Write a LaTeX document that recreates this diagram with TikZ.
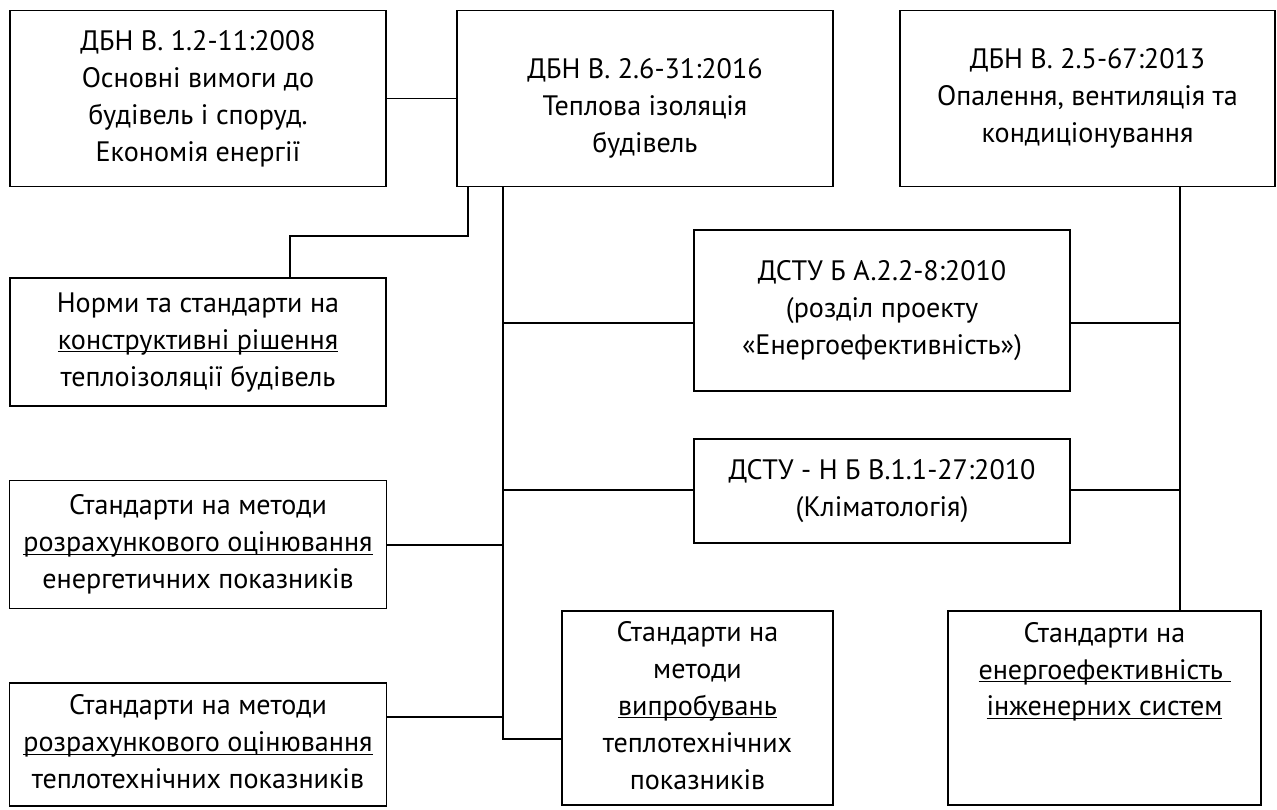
\documentclass[tikz,border=0pt]{standalone}
\usepackage{fontspec}
\setmainfont{PT Sans}
\usepackage{tikz}
\usetikzlibrary{positioning}
\newcommand{\ulbar}[1]{\setbox0=\hbox{#1}\rlap{\rule[-1.7pt]{\wd0}{0.6pt}}\box0}
\tikzset{
    stdbox/.style={
      rectangle,
      draw=black, line width=0.9pt,
      inner sep=2pt,
      text centered,
      font=\fontsize{16}{21}\selectfont,
    },
    stdtext/.style={
      inner sep=2pt,
      text centered,
      font=\fontsize{16}{21}\selectfont,
    },
}

\begin{document}
\begin{tikzpicture}[x=0.02cm,y=-0.02cm,line width=0.9pt]

    \useasboundingbox (0,0) rectangle (1277,810);

    \node[stdbox, minimum width=7.52cm, minimum height=3.52cm] (DBN1) at (198,98.5)
    {
      \begin{tabular}{c}
        ДБН В. 1.2-11:2008 \\
        Основні вимоги до \\
        будівель і споруд. \\
        Економія енергії
      \end{tabular}
    };

    \node[stdbox, minimum width=7.52cm, minimum height=3.52cm] (DBN2) at (645,98.5)
    {
      \raisebox{-0.2cm}[\height][\depth]{%
      \begin{tabular}{c}
        ДБН В. 2.6-31:2016 \\
        Теплова ізоляція \\
        будівель
      \end{tabular}}
    };

    \node[stdbox, minimum width=7.5cm, minimum height=3.52cm] (DBN3) at (1087.5,98.5)
    {
      \begin{tabular}{c}
        ДБН В. 2.5-67:2013 \\
        Опалення, вентиляція та \\
        кондиціонування
      \end{tabular}
    };

    \node[stdbox, minimum width=7.52cm, minimum height=2.56cm] (norms) at (198,342)
    {
      \begin{tabular}{c}
        Норми та стандарти на \\
        \ulbar{конструктивні рішення} \\
        теплоізоляції будівель
      \end{tabular}
    };

    \node[stdbox, minimum width=7.52cm, minimum height=3.22cm] (DSTU1) at (882,310.5)
    {
      \begin{tabular}{c}
        ДСТУ Б А.2.2-8:2010 \\
        (розділ проекту \\
        «Енергоефективність»)
      \end{tabular}
    };

    \node[stdbox, minimum width=7.52cm, minimum height=2.08cm] (DSTU2) at (882,491)
    {
      \begin{tabular}{c}
        ДСТУ - Н Б В.1.1-27:2010 \\
        (Кліматологія)
      \end{tabular}
    };

    \node[stdbox, minimum width=7.52cm, minimum height=2.56cm] (calcEn) at (198,544.5)
    {
      \begin{tabular}{c}
        Стандарти на методи \\
        \ulbar{розрахункового оцінювання} \\
        енергетичних показників
      \end{tabular}
    };

    \node[stdbox, minimum width=7.52cm, minimum height=2.46cm] (calcTh) at (198,744.5)
    {
      \begin{tabular}{c}
        Стандарти на методи \\
        \ulbar{розрахункового оцінювання} \\
        теплотехнічних показників
      \end{tabular}
    };

    \node[stdbox, minimum width=5.42cm, minimum height=3.88cm] (tests) at (697.5,708)
    {
      \begin{tabular}{c}
        Стандарти на \\
        методи \\
        \ulbar{випробувань} \\
        теплотехнічних \\
        показників
      \end{tabular}
    };

    \node[stdbox, minimum width=6.26cm, minimum height=3.88cm] (engsys) at (1104.5,708) {};
    \node[stdtext, anchor=north] (engsystext) at ([yshift=-1pt]engsys.north)
    {
      \begin{tabular}{c}
        Стандарти на \\
        \ulbar{енергоефективність\ } \\
        \ulbar{інженерних систем}
      \end{tabular}
    };

    \coordinate (spine) at (503,0);
    \coordinate (spineend) at (503,739);
    \coordinate (riser) at (1180,0);
    \coordinate (normsdrop) at (468,0);
    \coordinate (normsup) at (290,236);
    \coordinate (lvlA) at (0,323);
    \coordinate (lvlB) at (0,490);
    \coordinate (lvlC) at (0,545);
    \coordinate (lvlD) at (0,717);

    \draw (DBN1) -- (DBN2);
    \draw (DBN2.south -| normsdrop) |- (normsup) -- (normsup |- norms.north);

    \draw (DBN2.south -| spine) -- (spineend) -- (spineend -| tests.west);
    \draw (spine |- lvlA) -- (lvlA -| DSTU1.west);
    \draw (spine |- lvlB) -- (lvlB -| DSTU2.west);
    \draw (spine |- lvlC) -- (lvlC -| calcEn.east);
    \draw (spine |- lvlD) -- (lvlD -| calcTh.east);

    \draw (DBN3.south -| riser) -- (riser |- engsys.north);
    \draw (lvlA -| DSTU1.east) -- (riser |- lvlA);
    \draw (lvlB -| DSTU2.east) -- (riser |- lvlB);

\end{tikzpicture}
\end{document}
